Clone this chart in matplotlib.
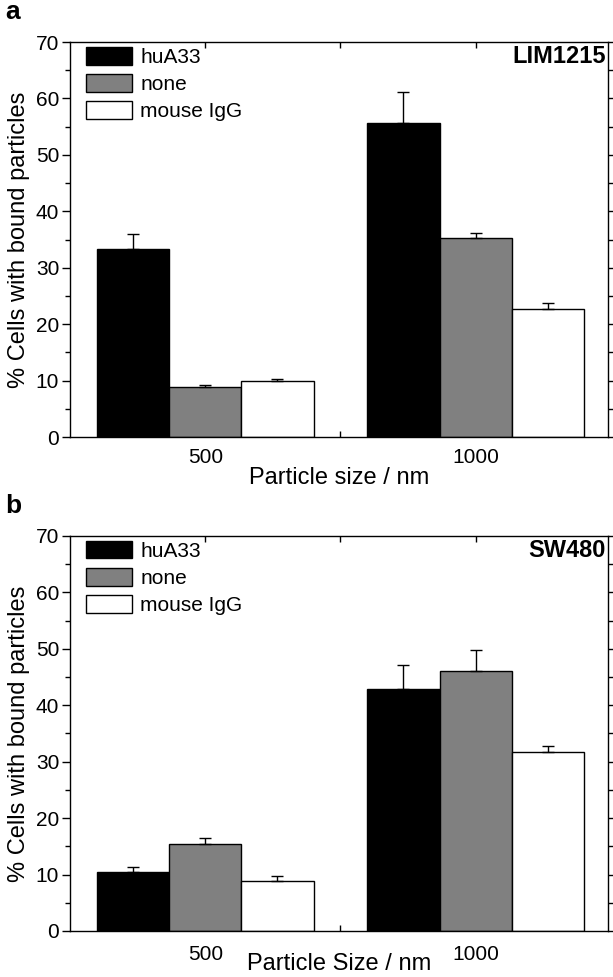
import numpy as np
import matplotlib
matplotlib.use("Agg")
import matplotlib.pyplot as plt
from matplotlib.patches import Patch

plt.rcParams['font.family'] = ['Liberation Sans', 'DejaVu Sans']

# Daten
sizes = ["500", "1000"]
series = ["huA33", "none", "mouse IgG"]
colors = ["black", "#808080", "white"]

lim_vals = [[33.4, 55.6], [8.8, 35.3], [9.9, 22.6]]
lim_err = [[2.5, 5.5], [0.5, 0.8], [0.3, 1.2]]

sw_vals = [[10.4, 42.9], [15.5, 46.0], [8.8, 31.8]]
sw_err = [[0.9, 4.3], [1.0, 3.8], [0.9, 0.9]]

fig = plt.figure(figsize=(6.13, 9.77), dpi=100)
ax1 = fig.add_axes([0.1142, 0.5527, 0.878, 0.4043])
ax2 = fig.add_axes([0.1142, 0.0471, 0.878, 0.4043])


def draw_panel(ax, vals, errs, cell, xlabel, letter, xpad, xlabpad):
    x = np.arange(len(sizes))
    w = 0.267
    for i, (v, e, c) in enumerate(zip(vals, errs, colors)):
        pos = x + (i - 1) * w
        ax.bar(pos, v, width=w, color=c, edgecolor='black', linewidth=1.0, zorder=2)
        ax.errorbar(pos, v, yerr=[np.zeros(len(e)), e], fmt='none', ecolor='black',
                    elinewidth=1.0, capsize=4, capthick=1.0, zorder=3)
    ax.set_xlim(-0.5, 1.49)
    ax.set_ylim(0, 70)
    ax.set_xticks(x)
    ax.set_xticklabels(sizes, fontsize=15)
    ax.set_xticks([0.5], minor=True)
    ax.set_yticks(np.arange(0, 71, 10))
    ax.set_yticks(np.arange(5, 70, 10), minor=True)
    ax.tick_params(axis='y', which='major', labelsize=15, direction='out', length=5.8, width=1,
                   right=True, pad=2)
    ax.tick_params(axis='y', which='minor', direction='out', length=3.6, width=1, right=True)
    ax.tick_params(axis='x', which='both', direction='in', length=4, width=1, top=True, pad=xpad)
    for sp in ax.spines.values():
        sp.set_linewidth(1.0)
    ax.set_ylabel("% Cells with bound particles", fontsize=17, labelpad=4)
    ax.set_xlabel(xlabel, fontsize=17, labelpad=xlabpad)
    ax.text(0.996, 0.992, cell, transform=ax.transAxes, ha='right', va='top',
            fontsize=17, fontweight='bold')
    ax.text(-0.121, 1.045, letter, transform=ax.transAxes, ha='left', va='bottom',
            fontsize=19, fontweight='bold')
    handles = [Patch(facecolor=c, edgecolor='black', linewidth=1.0) for c in colors]
    ax.legend(handles, series, loc='upper left', bbox_to_anchor=(0.02, 1.0), frameon=False,
              fontsize=15, handlelength=2.2, handleheight=0.9, handletextpad=0.4,
              labelspacing=0.35, borderaxespad=0.1, borderpad=0.15)


draw_panel(ax1, lim_vals, lim_err, "LIM1215", "Particle size / nm", "a", 8, 0)
draw_panel(ax2, sw_vals, sw_err, "SW480", "Particle Size / nm", "b", 10, -8)

fig.savefig("out.png", dpi=100)
